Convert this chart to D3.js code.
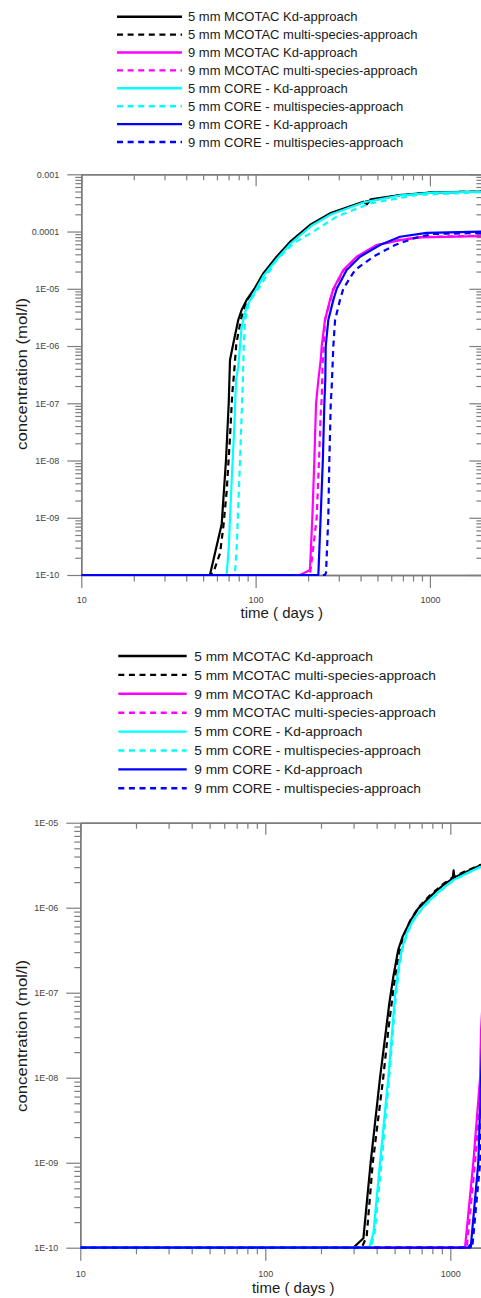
<!DOCTYPE html>
<html>
<head>
<meta charset="utf-8">
<script src="https://cdn.jsdelivr.net/npm/d3@7"></script>
<style>
  html, body { margin: 0; padding: 0; background: #fff; overflow: hidden; }
  svg { display: block; font-family: "Liberation Sans", Arial, sans-serif; }
</style>
</head>
<body>
<svg id="fig" width="540" height="1298"></svg>
<script>
// ---- series labels & styles (shared by both panels) ----
const seriesNames = [
  "5 mm MCOTAC Kd-approach",
  "5 mm MCOTAC multi-species-approach",
  "9 mm MCOTAC Kd-approach",
  "9 mm MCOTAC multi-species-approach",
  "5 mm CORE - Kd-approach",
  "5 mm CORE - multispecies-approach",
  "9 mm CORE - Kd-approach",
  "9 mm CORE - multispecies-approach"
];
const seriesColors = ["#000000", "#000000", "#ff00ff", "#ff00ff", "#00ffff", "#00ffff", "#0000ff", "#0000ff"];
const seriesDashed = [false, true, false, true, false, true, false, true];

// ---- axis ticks ----
const xMajorTicks = [10, 100, 1000];
const xTickLabels = ["10", "100", "1000"];
const yTickLabelsTop = ["1E-10", "1E-09", "1E-08", "1E-07", "1E-06", "1E-05", "0.0001", "0.001"];
const yTickLabelsBottom = ["1E-10", "1E-09", "1E-08", "1E-07", "1E-06", "1E-05"];

// ---- upper panel: [time (days), concentration (mol/l)] ----
const top_mcotac5Kd = [[10,1e-10],[54.7,1e-10],[63.9,7.8e-10],[67.6,1e-8],[70.1,1e-7],[71.3,5.7e-7],[74.5,1.11e-6],[79.5,2.85e-6],[83.2,4.3e-6],[88.9,6.4e-6],[99.2,1.04e-5],[110.7,1.86e-5],[132,3.63e-5],[157.5,6.6e-5],[205,1.3e-4],[267,2.08e-4],[415,3.32e-4],[435,2.99e-4],[458,3.66e-4],[673,4.35e-4],[1042,4.85e-4],[2000,4.97e-4]];
const top_mcotac5Multi = [[10,1e-10],[55,1e-10],[57.2,1.1e-10],[62.5,2.4e-10],[65.3,7e-10],[68.3,3e-9],[71.3,2.6e-8],[73.5,1.5e-7],[75,3e-7],[77.5,1.1e-6],[83,3.2e-6],[89.5,6.4e-6],[100,1.04e-5],[112,1.8e-5],[134,3.55e-5],[160,6.5e-5],[208,1.28e-4],[270,2.05e-4],[420,3.3e-4],[680,4.35e-4],[1050,4.85e-4],[2000,4.97e-4]];
const top_mcotac9Kd = [[10,1e-10],[180,1e-10],[205,1.22e-10],[211.5,1e-9],[217.2,1e-8],[222.2,1e-7],[229,2.55e-7],[236.3,5.7e-7],[239.4,1e-6],[250,2.85e-6],[267.3,6.4e-6],[279.2,1e-5],[318.4,2.13e-5],[380,3.63e-5],[495,5.82e-5],[674,7.1e-5],[877,7.9e-5],[2000,8.3e-5]];
const top_mcotac9Multi = [[10,1e-10],[205,1e-10],[214.4,3.1e-10],[224,1e-9],[231,1e-8],[236.3,6.7e-8],[239.4,1.2e-7],[242,4.4e-7],[250,2.85e-6],[268,6.2e-6],[281,1e-5],[320,2.1e-5],[383,3.6e-5],[500,5.8e-5],[680,7.2e-5],[880,8e-5],[2000,8.5e-5]];
const top_core5Kd = [[10,1e-10],[68.2,1e-10],[70.1,3e-10],[72.9,4.5e-9],[75.5,4e-8],[77.2,2.5e-7],[79.5,4.4e-7],[83.2,2.2e-6],[88.9,4.9e-6],[101,1e-5],[112,1.75e-5],[134,3.45e-5],[160,6.3e-5],[208,1.25e-4],[272,2e-4],[420,3.25e-4],[680,4.3e-4],[1050,4.8e-4],[2000,4.95e-4]];
const top_core5Multi = [[10,1e-10],[76,1e-10],[77.9,3.1e-10],[80.6,4.5e-9],[83.2,6.7e-8],[84.3,2e-7],[85.5,1e-6],[87,2.85e-6],[92,6e-6],[103.6,1e-5],[132,3.18e-5],[165,6.2e-5],[214,1e-4],[292,1.82e-4],[453,3.1e-4],[840,4.35e-4],[2000,4.9e-4]];
const top_core9Kd = [[10,1e-10],[229,1e-10],[236,1e-9],[243,1e-8],[248,1e-7],[251,2.5e-7],[252.5,1e-6],[261.2,2.85e-6],[279.2,6.4e-6],[292,1e-5],[333,2.13e-5],[397,3.63e-5],[517,5.82e-5],[674,8.1e-5],[958,9.5e-5],[2000,1e-4]];
const top_core9Multi = [[10,1e-10],[250,1e-10],[253.5,1.1e-10],[261.2,1e-9],[264.8,1e-8],[269.8,1e-7],[273.3,1.95e-7],[279.2,1e-6],[285.6,2.85e-6],[305,6.4e-6],[318.4,1e-5],[371.8,2.13e-5],[473,3.63e-5],[631,5.82e-5],[803,7.6e-5],[1042,9.1e-5],[2000,9.4e-5]];

// ---- lower panel: [time (days), concentration (mol/l)] ----
const bot_mcotac5Kd = [[10,1e-10],[299,1e-10],[339,1.29e-10],[371,1e-9],[417,1e-8],[449,3.6e-8],[468,7.5e-8],[492,1.54e-7],[523,3.2e-7],[553,4.6e-7],[606,6.9e-7],[671,9.8e-7],[777,1.35e-6],[916,1.85e-6],[1030,2.2e-6],[1042,2.75e-6],[1052,2.26e-6],[1175,2.54e-6],[1466,3.18e-6],[2000,3.7e-6]];
const bot_mcotac5Multi = [[10,1e-10],[332,1e-10],[353,1.35e-10],[381,1e-9],[434,1e-8],[462,3.6e-8],[492,1.08e-7],[523,2.6e-7],[553,4.4e-7],[606,7e-7],[671,1e-6],[777,1.4e-6],[916,1.9e-6],[1040,2.3e-6],[1175,2.62e-6],[1466,3.2e-6],[2000,3.7e-6]];
const bot_mcotac9Kd = [[10,1e-10],[1201,1e-10],[1331,1e-9],[1449,1e-8],[1466,3.6e-8],[1520,1.5e-7]];
const bot_mcotac9Multi = [[10,1e-10],[1227,1e-10],[1360,1e-9],[1475,1e-8],[1520,1e-7]];
const bot_core5Kd = [[10,1e-10],[365,1e-10],[384,1.5e-10],[417,1e-9],[462,1e-8],[482,3e-8],[502,9e-8],[523,1.87e-7],[546,3.2e-7],[581,5e-7],[631,7.2e-7],[715,1.03e-6],[845,1.48e-6],[1038,2.11e-6],[1277,2.65e-6],[1466,3.04e-6],[2000,3.6e-6]];
const bot_core5Multi = [[10,1e-10],[372,1e-10],[390,1.5e-10],[425,1e-9],[467,1e-8],[487,3e-8],[507,9e-8],[528,1.9e-7],[550,3.2e-7],[585,5e-7],[635,7.2e-7],[720,1.03e-6],[850,1.47e-6],[1040,2.1e-6],[1280,2.64e-6],[1466,3.03e-6],[2000,3.6e-6]];
const bot_core9Kd = [[10,1e-10],[1250,1e-10],[1273,1.07e-10],[1290,1.02e-10],[1417,1e-9],[1466,1e-8],[1520,1e-7]];
const bot_core9Multi = [[10,1e-10],[1280,1e-10],[1300,1.1e-10],[1315,1.02e-10],[1450,1e-9],[1500,1e-8]];

const svg = d3.select("#fig");
const axisGrey = "#7d7d7d";

function minorTicks(lo, hi) {
  const out = [];
  for (let e = Math.floor(Math.log10(lo)); e < Math.ceil(Math.log10(hi)); e++) {
    for (let m = 2; m <= 9; m++) {
      const v = m * Math.pow(10, e);
      if (v > lo * 1.0001 && v <= hi * 1.0001) out.push(v);
    }
  }
  return out;
}

function drawPanel(cfg) {
  const g = svg.append("g");
  const x = d3.scaleLog().domain([10, 2000]).range([cfg.x0, cfg.x1]);
  const y = d3.scaleLog().domain(cfg.yDomain).range([cfg.y0, cfg.y1]);
  const majorY = cfg.yLabels.map((_, i) => cfg.yDomain[0] * Math.pow(10, i));
  const minorY = minorTicks(cfg.yDomain[0], cfg.yDomain[1]);
  const minorX = minorTicks(10, 2000);

  const style = sel => {
    sel.selectAll("path.domain").attr("stroke", axisGrey).attr("stroke-width", 1.4);
    sel.selectAll(".tick line").attr("stroke", axisGrey).attr("stroke-width", 1.2);
    sel.selectAll(".tick text").attr("fill", "#444").attr("font-size", 9)
      .attr("font-family", "'Liberation Sans', Arial, sans-serif");
  };

  // frame: left & bottom ticks outward, top & right ticks inward
  g.append("g").attr("transform", `translate(${cfg.x0},0)`)
    .call(d3.axisLeft(y).tickValues(minorY).tickSize(6).tickSizeOuter(0).tickFormat("")).call(style);
  g.append("g").attr("transform", `translate(${cfg.x0},0)`)
    .call(d3.axisLeft(y).tickValues(majorY).tickSize(14).tickPadding(8).tickSizeOuter(0)
      .tickFormat((d, i) => cfg.yLabels[i])).call(style);
  g.append("g").attr("transform", `translate(${cfg.x1},0)`)
    .call(d3.axisRight(y).tickValues(minorY).tickSize(-6).tickSizeOuter(0).tickFormat("")).call(style);
  g.append("g").attr("transform", `translate(${cfg.x1},0)`)
    .call(d3.axisRight(y).tickValues(majorY).tickSize(-13).tickSizeOuter(0).tickFormat("")).call(style);
  g.append("g").attr("transform", `translate(0,${cfg.y1})`)
    .call(d3.axisTop(x).tickValues(minorX).tickSize(-6).tickSizeOuter(0).tickFormat("")).call(style);
  g.append("g").attr("transform", `translate(0,${cfg.y1})`)
    .call(d3.axisTop(x).tickValues(xMajorTicks).tickSize(-12).tickSizeOuter(0).tickFormat("")).call(style);
  g.append("g").attr("transform", `translate(0,${cfg.y0})`)
    .call(d3.axisBottom(x).tickValues(minorX).tickSize(6.5).tickSizeOuter(0).tickFormat("")).call(style);
  g.append("g").attr("transform", `translate(0,${cfg.y0})`)
    .call(d3.axisBottom(x).tickValues(xMajorTicks).tickSize(13).tickPadding(cfg.xPad).tickSizeOuter(0)
      .tickFormat((d, i) => xTickLabels[i])).call(style);

  // axis titles
  g.append("text")
    .attr("x", (cfg.x0 + cfg.x1) / 2).attr("y", cfg.xTitleY)
    .attr("text-anchor", "middle").attr("font-size", 15).attr("fill", "#1a1a1a")
    .text("time ( days )");
  g.append("text")
    .attr("transform", `translate(${cfg.yTitleX},${cfg.yTitleY}) rotate(-90)`)
    .attr("text-anchor", "middle").attr("dy", "0.35em")
    .attr("font-size", 14).attr("fill", "#1a1a1a")
    .attr("textLength", 152).attr("lengthAdjust", "spacingAndGlyphs")
    .text("concentration (mol/l)");

  // curves
  const clipId = "clip" + cfg.id;
  g.append("clipPath").attr("id", clipId).append("rect")
    .attr("x", cfg.x0).attr("y", cfg.y1 - 2).attr("width", cfg.x1 - cfg.x0).attr("height", cfg.y0 - cfg.y1 + 4);
  const line = d3.line().x(d => x(d[0])).y(d => y(d[1]));
  const curves = g.append("g").attr("clip-path", `url(#${clipId})`);
  cfg.series.forEach((data, i) => {
    curves.append("path")
      .attr("d", line(data))
      .attr("fill", "none")
      .attr("stroke", seriesColors[i])
      .attr("stroke-width", 2.2)
      .attr("stroke-linejoin", "round")
      .attr("stroke-dasharray", seriesDashed[i] ? "6,4.5" : null);
  });

  // legend
  const lg = g.append("g");
  seriesNames.forEach((name, i) => {
    const cy = cfg.legY + i * cfg.legStep;
    lg.append("line")
      .attr("x1", cfg.legX0).attr("x2", cfg.legX1).attr("y1", cy).attr("y2", cy)
      .attr("stroke", seriesColors[i]).attr("stroke-width", 2.4)
      .attr("stroke-dasharray", seriesDashed[i] ? "6,4.6" : null);
    lg.append("text")
      .attr("x", cfg.legTextX).attr("y", cy).attr("dy", "0.35em")
      .attr("font-size", cfg.legFont).attr("fill", "#1a1a1a")
      .text(name);
  });
}

drawPanel({
  id: "A",
  x0: 81.3, x1: 482.4,
  yDomain: [1e-10, 1e-3], y0: 575, y1: 174.3,
  yLabels: yTickLabelsTop,
  xPad: 8.5, xTitleY: 618, yTitleX: 22.5, yTitleY: 374,
  legY: 16.7, legStep: 17.9, legX0: 117, legX1: 182, legTextX: 188, legFont: 13,
  series: [top_mcotac5Kd, top_mcotac5Multi, top_mcotac9Kd, top_mcotac9Multi,
           top_core5Kd, top_core5Multi, top_core9Kd, top_core9Multi]
});

drawPanel({
  id: "B",
  x0: 80.3, x1: 506,
  yDomain: [1e-10, 1e-5], y0: 1247.7, y1: 822.7,
  yLabels: yTickLabelsBottom,
  xPad: 10, xTitleY: 1292.5, yTitleX: 22, yTitleY: 1036,
  legY: 656, legStep: 18.9, legX0: 118.3, legX1: 186.7, legTextX: 194.3, legFont: 13.7,
  series: [bot_mcotac5Kd, bot_mcotac5Multi, bot_mcotac9Kd, bot_mcotac9Multi,
           bot_core5Kd, bot_core5Multi, bot_core9Kd, bot_core9Multi]
});
</script>
</body>
</html>
